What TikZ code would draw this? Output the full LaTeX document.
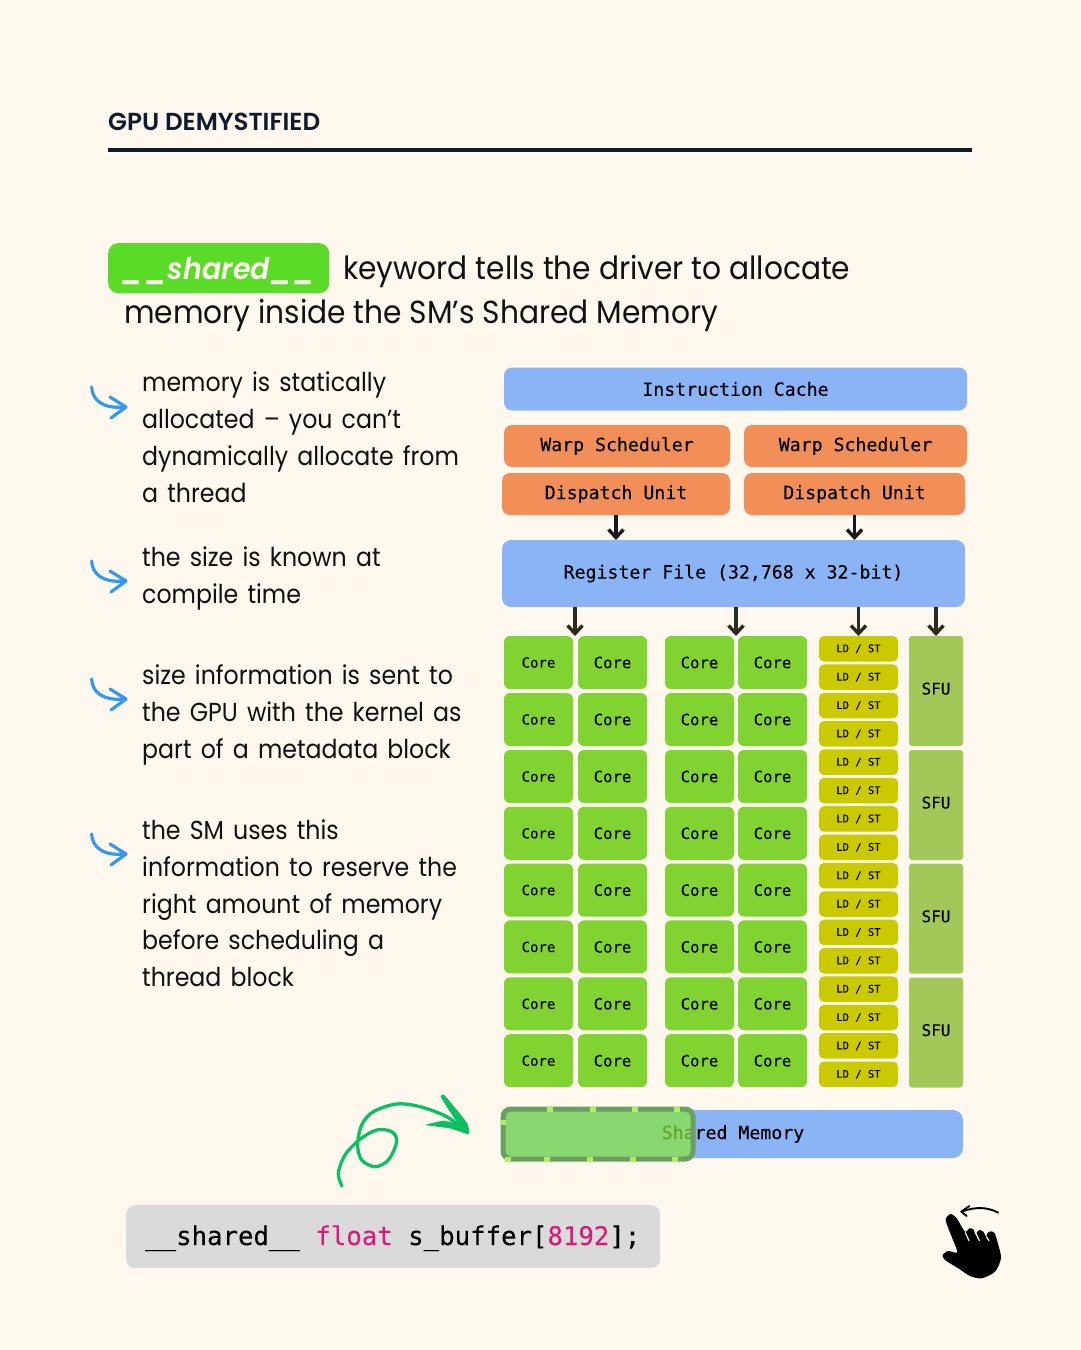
\documentclass[tikz,border=0pt]{standalone}
\usepackage{fontspec}
\usetikzlibrary{arrows.meta}
\setmainfont[FakeStretch=0.93]{Poppins}
\newfontfamily\bodyf[FakeStretch=0.91,WordSpace=1.45]{Poppins}
\newfontfamily\medf{Poppins SemiBold}
\newfontfamily\kwf[FakeStretch=0.95]{Poppins SemiBold Italic}
\newfontfamily\monof[FakeBold=0.15]{DejaVu Sans Mono}
\definecolor{bgc}{HTML}{FFF8EF}
\definecolor{navy}{HTML}{0F1C2E}
\definecolor{pill}{HTML}{5ADB28}
\definecolor{blueb}{HTML}{8AB4F5}
\definecolor{orangeb}{HTML}{F28F58}
\definecolor{coreb}{HTML}{80D331}
\definecolor{ldb}{HTML}{CBC900}
\definecolor{sfub}{HTML}{A2C85A}
\definecolor{arr}{HTML}{2B2B1E}
\definecolor{bluea}{HTML}{3398F0}
\definecolor{greena}{HTML}{0CBF63}
\definecolor{codebg}{HTML}{DADADA}
\definecolor{pink}{HTML}{D81B7A}
\definecolor{txt}{HTML}{111111}
\definecolor{ovfill}{HTML}{89E53E}
\definecolor{ovlight}{HTML}{B0F060}
\definecolor{ovdash}{HTML}{6A9F60}
\tikzset{
  x=1pt,y=-1pt,
  boxb/.style={anchor=north west,inner sep=0pt,outer sep=0pt,rounded corners=8pt,text=black,align=center},
  bluebox/.style={boxb,fill=blueb,font=\monof\fontsize{18.2}{20}\selectfont},
  orangebox/.style={boxb,fill=orangeb,font=\monof\fontsize{18.2}{20}\selectfont},
  corebox/.style={boxb,fill=coreb,minimum width=69pt,minimum height=53pt,rounded corners=6pt,font=\monof\fontsize{15.6}{16}\selectfont},
  coresmall/.style={corebox,font=\monof\fontsize{14}{16}\selectfont},
  ldbox/.style={boxb,fill=ldb,minimum width=79pt,minimum height=25.5pt,rounded corners=5pt,font=\monof\fontsize{10.5}{12}\selectfont},
  sfubox/.style={boxb,fill=sfub,minimum width=54pt,minimum height=110pt,rounded corners=3pt,text depth=5pt,font=\monof\fontsize{16}{18}\selectfont},
  flow/.style={draw=arr,line width=3.8pt,-{Straight Barb[length=8pt,width=15pt,line width=3.4pt]}},
  flowk/.style={flow,draw=black!90},
  body/.style={anchor=north west,inner sep=0pt,align=left,text=txt,font=\bodyf\fontsize{26}{37}\selectfont},
  title/.style={anchor=base west,inner sep=0pt,text=txt,font=\fontsize{31.9}{36}\selectfont},
  gapmark/.style={ovlight,line width=5pt},
  pics/curlarrow/.style={code={
    \draw[bluea,line width=3.2pt,line cap=round,line join=round]
      (91.7,387) .. controls (92,400) and (103,409) .. (124,407);
    \draw[bluea,line width=3.2pt,line cap=round,line join=round]
      (110,397) -- (126,407) -- (111,418);
  }},
}
\begin{document}
\begin{tikzpicture}
\useasboundingbox (0,0) rectangle (1080,1350);
\fill[bgc] (0,0) rectangle (1080,1350);
% header
\node[anchor=base west,inner sep=0pt,text=navy,font=\medf\fontsize{24.6}{26}\selectfont] (hdr) at (108,130) {GPU DEMYSTIFIED};
\coordinate (rulea) at (108,150);
\coordinate (ruleb) at (972,150);
\draw[navy,line width=3.5pt] (rulea) -- (ruleb);
% title
\node[anchor=north west,inner sep=0pt,fill=pill,rounded corners=10pt,minimum width=221pt,minimum height=50pt] (pillbox) at (108,243) {};
\node[anchor=base,inner sep=0pt,text=bgc,font=\kwf\fontsize{30}{36}\selectfont] (kw) at (219,279) {\_\kern1pt\_shared\_\kern1pt\_};
\node[title] (t1) at (343,279) {keyword tells the driver to allocate};
\node[title] (t2) at (124,323) {memory inside the SM’s Shared Memory};
% left text
\node[body] (b1) at (142,372) {memory is statically\\allocated – you can’t\\dynamically allocate from\\a thread};
\node[body] (b2) at (142,547) {the size is known at\\compile time};
\node[body] (b3) at (142,664) {size information is sent to\\the GPU with the kernel as\\part of a metadata block};
\node[body] (b4) at (142,819) {the SM uses this\\information to reserve the\\right amount of memory\\before scheduling a\\thread block};
\pic at (0,0) {curlarrow};
\pic at (0,174) {curlarrow};
\pic at (0,292) {curlarrow};
\pic at (0,447) {curlarrow};
% top boxes
\node[bluebox,minimum width=463pt,minimum height=43pt] (ic) at (504,367.5) {Instruction Cache};
\node[orangebox,minimum width=226pt,minimum height=42pt] (w1) at (504,425) {Warp Scheduler};
\node[orangebox,minimum width=223pt,minimum height=42pt] (w2) at (744,425) {Warp Scheduler};
\node[orangebox,minimum width=228pt,minimum height=42pt] (d1) at (502,473) {Dispatch Unit};
\node[orangebox,minimum width=221pt,minimum height=42pt] (d2) at (744,473) {Dispatch Unit};
\node[bluebox,minimum width=463pt,minimum height=67pt,rounded corners=9pt] (rf) at (502,540) {Register File (32,768 x 32-bit)};
% grid
\foreach \r/\y in {1/636,2/693,3/750,4/806.8,5/863.6,6/920.4,7/977.3,8/1034.2}{
  \node[coresmall] (ca\r) at (504,\y) {Core};
  \node[corebox] (cb\r) at (578,\y) {Core};
  \node[corebox] (cc\r) at (665,\y) {Core};
  \node[corebox] (cd\r) at (738,\y) {Core};
}
\foreach \i in {0,...,15}{
  \pgfmathsetmacro{\yy}{636+\i*28.37}
  \node[ldbox] (ld\i) at (819,\yy) {LD / ST};
}
\node[sfubox] (s1) at (909,636) {SFU};
\node[sfubox] (s2) at (909,750) {SFU};
\node[sfubox] (s3) at (909,863.7) {SFU};
\node[sfubox] (s4) at (909,977.5) {SFU};
% connectors
\coordinate (g1) at (575,636);
\coordinate (g2) at (736,636);
\draw[flowk] (d1.south) -- (rf.north -| d1.south);
\draw[flowk] (d2.south) -- (rf.north -| d2.south);
\draw[flow] (rf.south -| g1) -- (g1);
\draw[flow] (rf.south -| g2) -- (g2);
\draw[flow] (rf.south -| ld0.north) -- (ld0.north);
\draw[flow] (rf.south -| s1.north) -- (s1.north);
% shared memory
\node[bluebox,minimum width=460pt,minimum height=48pt,rounded corners=10pt] (sm) at (503,1110) {Shared Memory};
\fill[ovfill,opacity=.72,rounded corners=8pt] (503,1109) rectangle (693,1159);
\draw[ovdash,line width=5pt,rounded corners=8pt] (503,1109) rectangle (693,1159);
\foreach \gx in {550,593,635,677}{
  \draw[gapmark] (\gx-2.7,1109) -- (\gx+2.7,1109);
}
\foreach \gx in {508,547,590,633,675}{
  \draw[gapmark] (\gx-2.7,1159) -- (\gx+2.7,1159);
}
\draw[gapmark] (503,1119.5) -- (503,1124.5);
% green scribble
\begin{scope}[xshift=320pt,yshift=-1080pt,x=0.3333pt,y=-0.3333pt]
\draw[greena,line width=3.3pt,line cap=round,line join=round] plot[smooth,tension=.55] coordinates
  {(66,318) (55,280) (75,225) (120,178) (170,150) (215,155) (230,185) (205,240) (165,260) (125,240) (113,195) (125,135) (160,95) (230,72) (300,80) (380,110) (440,155)};
\fill[greena] plot[smooth cycle,tension=.2] coordinates {(362,50) (372,44) (415,95) (442,130) (448,160) (405,118)};
\fill[greena] plot[smooth cycle,tension=.2] coordinates {(316,135) (370,122) (415,132) (445,142) (445,163) (390,145)};
\end{scope}
% code
\node[anchor=north west,inner sep=0pt,fill=codebg,rounded corners=9pt,minimum width=534pt,minimum height=63pt] (cb) at (126,1205) {};
\node[anchor=base west,inner sep=0pt,text=black,font=\monof\fontsize{25.7}{28}\selectfont] (code) at (145,1245) {\_\_shared\_\_ \textcolor{pink}{float} s\_buffer[\textcolor{pink}{8192}];};
% hand
\begin{scope}[xshift=920pt,yshift=-1190pt,x=0.3333pt,y=-0.3333pt]
\fill[black] plot[smooth cycle,tension=.45] coordinates
  {(92,72) (77,90) (95,140) (112,187) (85,183) (68,195) (75,210) (115,235) (150,258) (185,265) (225,245) (243,205) (235,165) (224,130) (212,124) (202,130) (198,140) (190,125) (178,120) (170,128) (166,135) (160,118) (148,115) (135,125) (110,85)};
\draw[bgc,line width=1.2pt,line cap=round] (136,128) -- (147,152);
\draw[bgc,line width=1.2pt,line cap=round] (168,130) -- (178,152);
\draw[bgc,line width=1.2pt,line cap=round] (199,140) -- (207,152);
\draw[black,line width=1.9pt,line cap=round] (235,68) .. controls (200,50) and (165,50) .. (125,65);
\draw[black,line width=1.9pt,line cap=round,line join=round] (148,48) -- (124,65) -- (140,78);
\end{scope}
\end{tikzpicture}
\end{document}
